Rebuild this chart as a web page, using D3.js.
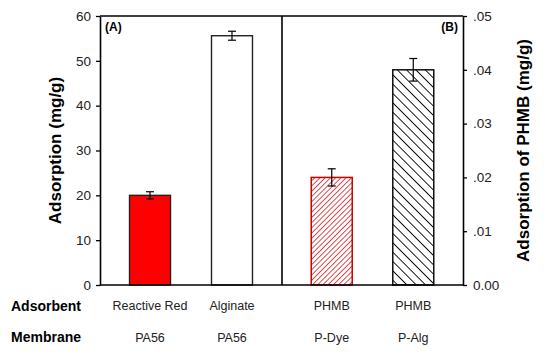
<!DOCTYPE html>
<html>
<head>
<meta charset="utf-8">
<script src="https://cdn.jsdelivr.net/npm/d3@7/dist/d3.min.js"></script>
<style>
  body { margin: 0; background: #fff; }
  text { font-family: "Liberation Sans", Arial, sans-serif; }
</style>
</head>
<body>
<script>
// data
var adsorbent = ["Reactive Red", "Alginate", "PHMB", "PHMB"];
var membrane = ["PA56", "PA56", "P-Dye", "P-Alg"];
// panel A (left axis, mg/g)
var valuesA = [20.0, 55.6];
var errorsA = [0.8, 1.0];
// panel B (right axis, mg/g PHMB)
var valuesB = [0.020, 0.040];
var errorsB = [0.0016, 0.0021];
var ticksA = [0, 10, 20, 30, 40, 50, 60];
var ticksB = [0, 0.01, 0.02, 0.03, 0.04, 0.05];

var width = 554, height = 354;
var plotLeft = 100, plotRight = 463, plotTop = 16, plotBottom = 285, plotMid = 282;

var svg = d3.select('body').append('svg')
    .attr('width', width)
    .attr('height', height);

var defs = svg.append('defs');
// red "/" hatching
defs.append('pattern')
    .attr('id', 'hatchRed')
    .attr('patternUnits', 'userSpaceOnUse')
    .attr('width', 3.7).attr('height', 3.7)
    .attr('patternTransform', 'rotate(45)')
    .append('line')
    .attr('x1', 0).attr('y1', 0).attr('x2', 0).attr('y2', 3.7)
    .attr('stroke', '#cc0000').attr('stroke-width', 1.4);
// black "\" hatching
defs.append('pattern')
    .attr('id', 'hatchBlack')
    .attr('patternUnits', 'userSpaceOnUse')
    .attr('width', 6.6).attr('height', 6.6)
    .attr('patternTransform', 'rotate(-45)')
    .append('line')
    .attr('x1', 0).attr('y1', 0).attr('x2', 0).attr('y2', 6.6)
    .attr('stroke', '#000').attr('stroke-width', 1.8);

// skalor
var yA = d3.scaleLinear().domain([0, 60]).range([plotBottom, plotTop]);
var yB = d3.scaleLinear().domain([0, 0.05]).range([plotBottom, plotTop]);
var xA = d3.scalePoint().domain([0, 1]).range([plotLeft, plotMid]).padding(0.61);
var xB = d3.scalePoint().domain([2, 3]).range([plotMid, plotRight]).padding(0.61);
var barW = xA.step() * 0.5;

var fillsA = ['#ff0000', '#ffffff'];
var strokesA = ['#222', '#222'];
var fillsB = ['url(#hatchRed)', 'url(#hatchBlack)'];
var strokesB = ['#cc0000', '#111'];

// panel A bars
svg.append('g').selectAll('rect').data(valuesA)
    .enter().append('rect')
    .attr('x', function(d, i) { return xA(i) - barW/2; })
    .attr('y', function(d) { return yA(d); })
    .attr('width', barW)
    .attr('height', function(d) { return plotBottom - yA(d); })
    .attr('fill', function(d, i) { return fillsA[i]; })
    .attr('stroke', function(d, i) { return strokesA[i]; })
    .attr('stroke-width', 1.4);

// panel B bars
svg.append('g').selectAll('rect').data(valuesB)
    .enter().append('rect')
    .attr('x', function(d, i) { return xB(i + 2) - barW/2; })
    .attr('y', function(d) { return yB(d); })
    .attr('width', barW)
    .attr('height', function(d) { return plotBottom - yB(d); })
    .attr('fill', function(d, i) { return fillsB[i]; })
    .attr('stroke', function(d, i) { return strokesB[i]; })
    .attr('stroke-width', 1.5);

// error bars
function errorBar(g, cx, yScale, v, e) {
    var cap = 4;
    g.append('line').attr('x1', cx).attr('x2', cx)
        .attr('y1', yScale(v + e)).attr('y2', yScale(v - e));
    g.append('line').attr('x1', cx - cap).attr('x2', cx + cap)
        .attr('y1', yScale(v + e)).attr('y2', yScale(v + e));
    g.append('line').attr('x1', cx - cap).attr('x2', cx + cap)
        .attr('y1', yScale(v - e)).attr('y2', yScale(v - e));
}
var errG = svg.append('g').attr('stroke', '#000').attr('stroke-width', 1.2);
valuesA.forEach(function(v, i) { errorBar(errG, xA(i), yA, v, errorsA[i]); });
valuesB.forEach(function(v, i) { errorBar(errG, xB(i + 2), yB, v, errorsB[i]); });

// ram
var frame = svg.append('g').attr('stroke', '#000').attr('stroke-width', 1.6);
frame.append('line').attr('x1', plotLeft).attr('x2', plotRight).attr('y1', plotTop).attr('y2', plotTop);
frame.append('line').attr('x1', plotLeft).attr('x2', plotRight).attr('y1', plotBottom).attr('y2', plotBottom);
frame.append('line').attr('x1', plotMid).attr('x2', plotMid).attr('y1', plotTop).attr('y2', plotBottom);

// axlar
var axA = svg.append('g')
    .attr('transform', 'translate(' + plotLeft + ',0)')
    .call(d3.axisLeft(yA).tickValues(ticksA).tickSize(4).tickSizeOuter(0).tickPadding(5));
var axB = svg.append('g')
    .attr('transform', 'translate(' + plotRight + ',0)')
    .call(d3.axisRight(yB).tickValues(ticksB).tickSize(4).tickSizeOuter(0).tickPadding(6)
        .tickFormat(function(d) { return d === 0 ? '0.00' : d3.format('.2f')(d).replace(/^0/, ''); }));
[axA, axB].forEach(function(ax) {
    ax.select('.domain').attr('stroke-width', 1.6);
    ax.selectAll('.tick line').attr('stroke-width', 1.3);
    ax.selectAll('.tick text')
        .style('font-family', '"Liberation Sans", Arial, sans-serif')
        .style('font-size', '13.5px')
        .attr('fill', '#222');
});

// axeltitlar
svg.append('text')
    .attr('transform', 'translate(61,' + ((plotTop + plotBottom) / 2) + ') rotate(-90)')
    .attr('text-anchor', 'middle')
    .style('font-size', '17px').style('font-weight', 'bold')
    .text('Adsorption (mg/g)');
svg.append('text')
    .attr('transform', 'translate(529,' + ((plotTop + plotBottom) / 2) + ') rotate(-90)')
    .attr('text-anchor', 'middle')
    .style('font-size', '17px').style('font-weight', 'bold')
    .text('Adsorption of PHMB (mg/g)');

// panel labels
svg.append('text').attr('x', plotLeft + 5).attr('y', plotTop + 15)
    .style('font-size', '12px').style('font-weight', 'bold').text('(A)');
svg.append('text').attr('x', plotRight - 5).attr('y', plotTop + 15)
    .attr('text-anchor', 'end')
    .style('font-size', '12px').style('font-weight', 'bold').text('(B)');

// kategoritexter under diagrammet
var centres = [xA(0), xA(1), xB(2), xB(3)];
svg.append('text').attr('x', 11).attr('y', 311)
    .style('font-size', '14px').style('font-weight', 'bold').text('Adsorbent');
svg.append('text').attr('x', 11).attr('y', 342)
    .style('font-size', '14px').style('font-weight', 'bold').text('Membrane');
svg.append('g').selectAll('text').data(adsorbent)
    .enter().append('text')
    .attr('x', function(d, i) { return centres[i]; })
    .attr('y', 310)
    .attr('text-anchor', 'middle')
    .attr('fill', '#222')
    .style('font-size', '12.5px')
    .text(function(d) { return d; });
svg.append('g').selectAll('text').data(membrane)
    .enter().append('text')
    .attr('x', function(d, i) { return centres[i]; })
    .attr('y', 342)
    .attr('text-anchor', 'middle')
    .attr('fill', '#222')
    .style('font-size', '12.5px')
    .text(function(d) { return d; });
</script>
</body>
</html>
